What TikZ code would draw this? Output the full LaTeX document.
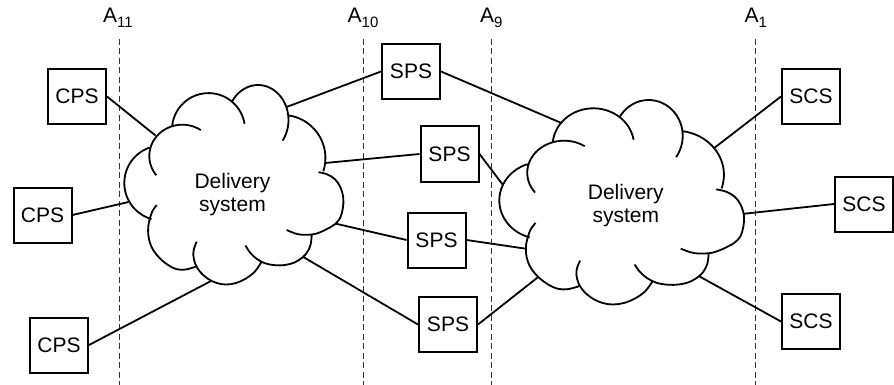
\documentclass[tikz,border=0pt]{standalone}
\usepackage{fontspec}
\setmainfont{Liberation Sans}
\begin{document}
\begin{tikzpicture}[x=1pt,y=-1pt,
  box/.style={draw,line width=2pt,minimum width=58pt,minimum height=55pt,inner sep=0pt,
    font=\fontsize{21}{24}\selectfont},
  link/.style={line width=1.8pt},
  cloudline/.style={line width=1.8pt},
  boundary/.style={draw=black!80,line width=0.9pt,dash pattern=on 6pt off 3.5pt},
  axislabel/.style={anchor=base,inner sep=0pt,font=\fontsize{21}{24}\selectfont},
  cloudtext/.style={align=center,inner sep=0pt,font=\fontsize{21}{23.4}\selectfont},
  cloud/.pic={
    \begin{scope}[shift={(-124.3,-85)}]
      % outer bumps, each arc running a little past its neighbours
      \draw[cloudline]
        plot[domain=250.8:106,samples=30] ({161.8+37.5*cos(\x)},{183+37.5*sin(\x)})
        plot[domain=142:304,samples=30] ({182.3+33*cos(\x)},{156+31.3*sin(\x)})
        plot[domain=186.8:350.8,samples=30] ({208.5+36.5*cos(\x)},{129.6+36.5*sin(\x)})
        plot[domain=210.8:396.3,samples=30] ({258+30.5*cos(\x)},{120+35*sin(\x)})
        plot[domain=277.9:378,samples=30] ({282.4+43*cos(\x)},{158+43*sin(\x)})
        plot[smooth,tension=0.6] coordinates {(318.5,172.2) (327,174.3) (335,179.3) (340.5,187.5)
          (343.3,198) (342.8,208.5) (340,218.3) (334.5,224.5) (328.3,228.3) (320,232.3)
          (311.7,234.5) (298.3,234.3) (286.7,230)}
        plot[smooth,tension=0.6] coordinates {(311.7,235.5) (310.6,244.5) (307.6,251.5)
          (303.3,256.7) (295,262.3) (285,265) (275,265.2) (265,263.3) (256.5,258.7)
          (250,252.5) (245.5,245.5)}
        plot[smooth,tension=0.6] coordinates {(196.7,241.7) (194.2,248) (193.3,255) (195.3,264)
          (200,271.7) (207.5,278.5) (216.7,283) (226,284.5) (236,283) (246,278.5)
          (255,271.5) (261.7,261.5)}
        plot[smooth,tension=0.6] coordinates {(156.7,205) (152.5,211) (150,218.3) (148.3,226)
          (148.3,235) (150,243) (153.5,250.5) (160,258.5) (168,265) (176.7,269.2)
          (186,269.5) (196,266.5)};
      % attachment points on the outline
      \coordinate (-nw)  at (155.5,135.5);
      \coordinate (-w)   at (128.5,202);
      \coordinate (-wn)  at (127.5,167.8);
      \coordinate (-sw)  at (148.8,230.2);
      \coordinate (-ssw) at (159,257.8);
      \coordinate (-s)   at (211,281);
      \coordinate (-top) at (180,107.5);
      \coordinate (-ne)  at (286.5,107);
      \coordinate (-en)  at (316.5,132);
      \coordinate (-e)   at (325,163);
      \coordinate (-ee)  at (343.3,196);
      \coordinate (-ese) at (335,223.5);
      \coordinate (-se)  at (303.3,257);
    \end{scope}
  }]
\useasboundingbox (0,0) rectangle (894,385);

% interface boundaries
\coordinate (b11t) at (119.5,39);  \coordinate (b11b) at (119.5,385);
\coordinate (b10t) at (363.5,39);  \coordinate (b10b) at (363.5,385);
\coordinate (b9t)  at (491.3,39);  \coordinate (b9b)  at (491.3,385);
\coordinate (b1t)  at (755.7,39);  \coordinate (b1b)  at (755.7,385);
\draw[boundary] (b11t) -- (b11b);
\draw[boundary] (b10t) -- (b10b);
\draw[boundary] (b9t) -- (b9b);
\draw[boundary] (b1t) -- (b1b);
\node[axislabel] (l11) at (118,22.7) {A\raisebox{-4.5pt}{\fontsize{15}{15}\selectfont 11}};
\node[axislabel] (l10) at (363,22.7) {A\raisebox{-4.5pt}{\fontsize{15}{15}\selectfont 10}};
\node[axislabel] (l9)  at (491.3,22.7) {A\raisebox{-4.5pt}{\fontsize{15}{15}\selectfont 9}};
\node[axislabel] (l1)  at (755.7,22.7) {A\raisebox{-4.5pt}{\fontsize{15}{15}\selectfont 1}};

% delivery systems
\pic (cL) at (124.3,85) {cloud};
\pic[xscale=1.117,yscale=1.025] (cR) at (499.3,100) {cloud};
\node[cloudtext] (dsL) at (232.5,194.6) {Delivery\\system};
\node[cloudtext] (dsR) at (625.8,205.6) {Delivery\\system};

% end systems
\node[box] (cps1) at (77,96.5) {CPS};
\node[box] (cps2) at (42.5,215) {CPS};
\node[box] (cps3) at (59,345) {CPS};
\node[box] (sps1) at (411,71.5) {SPS};
\node[box] (sps2) at (449.5,154) {SPS};
\node[box] (sps3) at (436.5,240) {SPS};
\node[box] (sps4) at (448,324.5) {SPS};
\node[box] (scs1) at (811,96.5) {SCS};
\node[box] (scs2) at (864,204) {SCS};
\node[box] (scs3) at (811,321.5) {SCS};

% links
\draw[link] (cps1.east) -- (cL-nw);
\draw[link] (cps2.east) -- (cL-w);
\draw[link] (cps3.east) -- (cL-s);
\draw[link] (cL-ne) -- (sps1.west);
\draw[link] (cL-e) -- (sps2.west);
\draw[link] (cL-ese) -- (sps3.west);
\draw[link] (cL-se) -- (sps4.west);
\draw[link] (sps1.east) -- (cR-top);
\draw[link] (sps2.east) -- (cR-wn);
\draw[link] (sps3.east) -- (cR-sw);
\draw[link] (sps4.east) -- (cR-ssw);
\draw[link] (cR-en) -- (scs1.west);
\draw[link] (cR-ee) -- (scs2.west);
\draw[link] (cR-se) -- (scs3.west);
\end{tikzpicture}
\end{document}
